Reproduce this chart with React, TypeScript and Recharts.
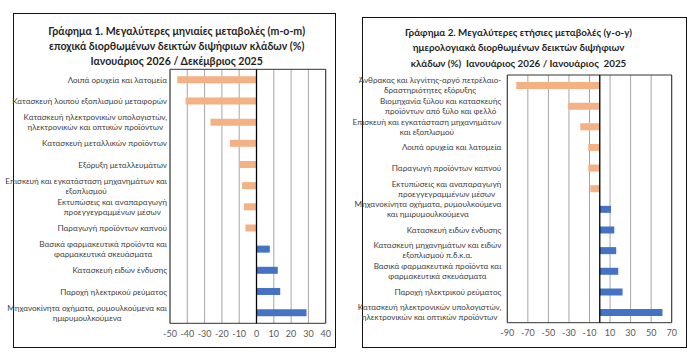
import React from "react";
import {
  BarChart,
  Bar,
  XAxis,
  YAxis,
  CartesianGrid,
  Cell,
  ReferenceLine,
  ReferenceArea,
} from "recharts";

const momCategories = [
  "Λοιπά ορυχεία και λατομεία",
  "Κατασκευή λοιπού εξοπλισμού μεταφορών",
  "Κατασκευή ηλεκτρονικών υπολογιστών,\nηλεκτρονικών και οπτικών προϊόντων",
  "Κατασκευή μεταλλικών προϊόντων",
  "Εξόρυξη μεταλλευμάτων",
  "Επισκευή και εγκατάσταση μηχανημάτων και\nεξοπλισμού",
  "Εκτυπώσεις και αναπαραγωγή\nπροεγγεγραμμένων μέσων",
  "Παραγωγή προϊόντων καπνού",
  "Βασικά φαρμακευτικά προϊόντα και\nφαρμακευτικά σκευάσματα",
  "Κατασκευή ειδών ένδυσης",
  "Παροχή ηλεκτρικού ρεύματος",
  "Μηχανοκίνητα οχήματα, ρυμουλκούμενα και\nημιρυμουλκούμενα",
];
const momValues = [-45.8, -41.0, -26.6, -15.4, -9.8, -8.3, -7.3, -6.4, 7.7, 12.3, 13.7, 28.9];
const momTicks = [-50, -40, -30, -20, -10, 0, 10, 20, 30, 40];

const yoyCategories = [
  "Άνθρακας και λιγνίτης-αργό πετρέλαιο-\nδραστηριότητες εξόρυξης",
  "Βιομηχανία ξύλου και κατασκευής\nπροϊόντων από ξύλο και φελλό",
  "Επισκευή και εγκατάσταση μηχανημάτων\nκαι εξοπλισμού",
  "Λοιπά ορυχεία και λατομεία",
  "Παραγωγή προϊόντων καπνού",
  "Εκτυπώσεις και αναπαραγωγή\nπροεγγεγραμμένων μέσων",
  "Μηχανοκίνητα οχήματα, ρυμουλκούμενα\nκαι ημιρυμουλκούμενα",
  "Κατασκευή ειδών ένδυσης",
  "Κατασκευή μηχανημάτων και ειδών\nεξοπλισμού π.δ.κ.α.",
  "Βασικά φαρμακευτικά προϊόντα και\nφαρμακευτικά σκευάσματα",
  "Παροχή ηλεκτρικού ρεύματος",
  "Κατασκευή ηλεκτρονικών υπολογιστών,\nηλεκτρονικών και οπτικών προϊόντων",
];
const yoyValues = [-81.3, -31.0, -19.0, -11.2, -11.2, -9.2, 10.9, 14.1, 16.0, 18.0, 22.2, 61.0];
const yoyTicks = [-90, -70, -50, -30, -10, 10, 30, 50, 70];

const titleLeft = [
  "Γράφημα 1. Μεγαλύτερες μηνιαίες μεταβολές (m-o-m)",
  "εποχικά διορθωμένων δεικτών διψήφιων κλάδων (%)",
  "Ιανουάριος 2026 / Δεκέμβριος 2025",
];
const titleRight = [
  "Γράφημα 2. Μεγαλύτερες ετήσιες μεταβολές (y-o-y)",
  "ημερολογιακά διορθωμένων δεικτών διψήφιων",
  "κλάδων (%)  Ιανουάριος 2026 / Ιανουάριος  2025",
];

const NEG = "#F4B183";
const POS = "#4472C4";
const LABEL_FONT = "Lato";
const LABEL_SIZE = 8.1;

let ctx: CanvasRenderingContext2D | null = null;
function textWidth(s: string) {
  if (!ctx) ctx = document.createElement("canvas").getContext("2d");
  if (!ctx) return s.length * 4;
  ctx.font = `${LABEL_SIZE}px ${LABEL_FONT}`;
  return ctx.measureText(s).width;
}

// wrapped category label: lines centred on each other, block right-aligned
const WrapTick = (props: any) => {
  const { x, y, payload, gap } = props;
  const lines = String(payload.value).split("\n");
  const w = Math.max(...lines.map(textWidth));
  const cx = x - gap - w / 2;
  const lh = 10;
  const y0 = y - ((lines.length - 1) * lh) / 2;
  return (
    <text
      textAnchor="middle"
      fontSize={LABEL_SIZE}
      fontFamily={LABEL_FONT}
      fill="#404040"
      dominantBaseline="central"
    >
      {lines.map((l, i) => (
        <tspan key={i} x={cx} y={y0 + i * lh}>
          {l}
        </tspan>
      ))}
    </text>
  );
};

function Title({ lines, cx, top, lh, size }: { lines: string[]; cx: number; top: number; lh: number; size: number }) {
  return (
    <div style={{ position: "absolute", left: cx - 200, top, width: 400, textAlign: "center" }}>
      {lines.map((l) => (
        <div
          key={l}
          style={{
            fontFamily: "Lato, sans-serif",
            fontWeight: 700,
            fontSize: size,
            lineHeight: `${lh}px`,
            color: "#1f1f1f",
            whiteSpace: "pre",
          }}
        >
          {l}
        </div>
      ))}
    </div>
  );
}

function Panel({
  categories,
  values,
  ticks,
  left,
  width,
  margin,
  yWidth,
  gap,
}: {
  categories: string[];
  values: number[];
  ticks: number[];
  left: number;
  width: number;
  margin: { top: number; right: number; bottom: number; left: number };
  yWidth: number;
  gap: number;
}) {
  const data = categories.map((name, i) => ({ name, value: values[i] }));
  const lo = ticks[0];
  const hi = ticks[ticks.length - 1];
  return (
    <div style={{ position: "absolute", left, top: 0 }}>
      <BarChart width={width} height={355} data={data} layout="vertical" margin={margin}>
        <CartesianGrid horizontal={false} vertical stroke="#A6A6A6" strokeWidth={1} />
        <XAxis
          type="number"
          domain={[lo, hi]}
          ticks={ticks}
          interval={0}
          axisLine={false}
          tickLine={false}
          tickSize={0}
          tickMargin={7}
          height={20}
          tick={{ fill: "#595959", fontSize: 9, fontFamily: LABEL_FONT }}
        />
        <YAxis
          type="category"
          dataKey="name"
          width={yWidth}
          interval={0}
          axisLine={false}
          tickLine={false}
          tickSize={0}
          tickMargin={0}
          tick={<WrapTick gap={gap} />}
        />
        <ReferenceArea x1={lo} x2={hi} fill="none" stroke="#333" strokeWidth={1} ifOverflow="visible" />
        <Bar dataKey="value" barSize={7} isAnimationActive={false}>
          {data.map((d, i) => (
            <Cell key={i} fill={d.value < 0 ? NEG : POS} />
          ))}
        </Bar>
        <ReferenceLine x={0} stroke="#000" strokeWidth={1.3} />
      </BarChart>
    </div>
  );
}

export default function App() {
  return (
    <div
      style={{
        position: "absolute",
        left: 0,
        top: 0,
        width: 689,
        height: 355,
        background: "#fff",
        overflow: "hidden",
      }}
    >
      <div style={{ position: "absolute", left: 13, top: 13, width: 321, height: 333, border: "1.5px solid #111" }} />
      <div style={{ position: "absolute", left: 362, top: 17, width: 323, height: 329, border: "1.5px solid #111" }} />
      <Title lines={titleLeft} cx={176.7} top={24} lh={15} size={10.6} />
      <Title lines={titleRight} cx={518.5} top={24.5} lh={15.5} size={9.8} />
      <Panel
        categories={momCategories}
        values={momValues}
        ticks={momTicks}
        left={0}
        width={345}
        margin={{ top: 69.3, right: 19.3, bottom: 11.7, left: 0 }}
        yWidth={170}
        gap={3}
      />
      <Panel
        categories={yoyCategories}
        values={yoyValues}
        ticks={yoyTicks}
        left={345}
        width={344}
        margin={{ top: 75, right: 17.3, bottom: 12.3, left: 0 }}
        yWidth={162.3}
        gap={6}
      />
    </div>
  );
}
